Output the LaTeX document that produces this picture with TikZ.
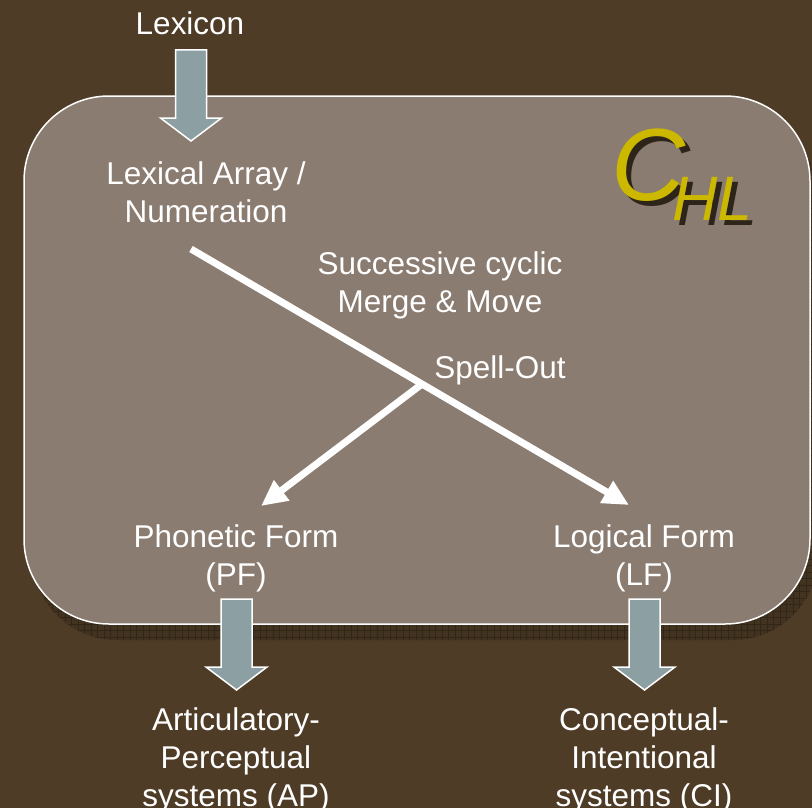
\documentclass[tikz,border=0pt]{standalone}
\usepackage{fontspec}
\setmainfont{Liberation Sans}
\usetikzlibrary{arrows.meta}
\definecolor{bg}{RGB}{79,60,39}
\definecolor{boxfill}{RGB}{139,124,113}
\definecolor{shadowfill}{RGB}{66,50,32}
\definecolor{shadowgrid}{RGB}{50,38,25}
\definecolor{arrowfill}{RGB}{140,159,162}
\definecolor{chlyellow}{RGB}{205,184,0}
\definecolor{chlshadow}{RGB}{46,37,26}
\newcommand\blockarrow[1]{%
  \draw[blockarr] (#1) ++(-15.5,0) -- ++(31,0) -- ++(0,68) -- ++(15,0)
    -- ++(-30.5,23) -- ++(-30.5,-23) -- ++(15,0) -- cycle;}
\begin{document}
\begin{tikzpicture}[x=1bp,y=-1bp,
  lbl/.style={text=white, font=\fontsize{31.6pt}{38pt}\selectfont, inner sep=0pt, anchor=base},
  blockarr/.style={fill=arrowfill, draw=white, line width=1.5bp, line join=miter},
  flow/.style={draw=white, line width=7bp, -{Triangle[length=26bp,width=24bp]}},
  bigC/.style={font=\fontsize{103pt}{103pt}\selectfont\itshape, inner sep=0pt, anchor=base west},
  subHL/.style={font=\fontsize{63pt}{63pt}\selectfont\itshape, inner sep=0pt, anchor=base west}]
\useasboundingbox (0,0) rectangle (812,808);
\fill[bg] (0,0) rectangle (812,808);
% shadow of the box
\begin{scope}
  \clip[rounded corners=85bp] (32,112) rectangle (818,640);
  \fill[shadowfill] (0,0) rectangle (830,700);
  \draw[shadowgrid, line width=0.8bp, step=6.5bp] (0,0) grid (830,700);
\end{scope}
% main box
\draw[fill=boxfill, draw=white, line width=1.5bp, rounded corners=85bp] (24,96) rectangle (810,624);
% C_HL
\node[bigC, text=chlshadow] (Cs) at (616,205) {C};
\node[bigC, text=chlyellow] (C) at (611,200) {C};
\node[subHL, text=chlshadow] (HLs) at (677,225) {HL};
\node[subHL, text=chlyellow] (HL) at (672,220) {HL};
% texts
\node[lbl] (lex) at (190,35) {Lexicon};
\node[lbl] (la1) at (206,184) {Lexical Array /};
\node[lbl] (la2) at (206,222) {Numeration};
\node[lbl] (sc1) at (440,274) {Successive cyclic};
\node[lbl] (sc2) at (440,312) {Merge \& Move};
\node[lbl] (so) at (500,378) {Spell-Out};
\node[lbl] (pf1) at (236,547) {Phonetic Form};
\node[lbl] (pf2) at (236,585) {(PF)};
\node[lbl] (lf1) at (644,547) {Logical Form};
\node[lbl] (lf2) at (644,585) {(LF)};
\node[lbl] (ap1) at (236,730) {Articulatory-};
\node[lbl] (ap2) at (236,768) {Perceptual};
\node[lbl] (ap3) at (236,806) {systems (AP)};
\node[lbl] (ci1) at (644,730) {Conceptual-};
\node[lbl] (ci2) at (644,768) {Intentional};
\node[lbl] (ci3) at (644,806) {systems (CI)};
% block arrows
\coordinate (topA) at (191,50);
\coordinate (pfA) at (236.5,599);
\coordinate (lfA) at (644.5,599);
\blockarrow{topA}
\blockarrow{pfA}
\blockarrow{lfA}
% white flow lines
\coordinate (start) at (191,249);
\coordinate (lfTip) at (629,505);
\coordinate (junc) at (422,384);
\coordinate (pfTip) at (261,506);
\draw[flow] (start) -- (lfTip);
\draw[flow] (junc) -- (pfTip);
\end{tikzpicture}
\end{document}
